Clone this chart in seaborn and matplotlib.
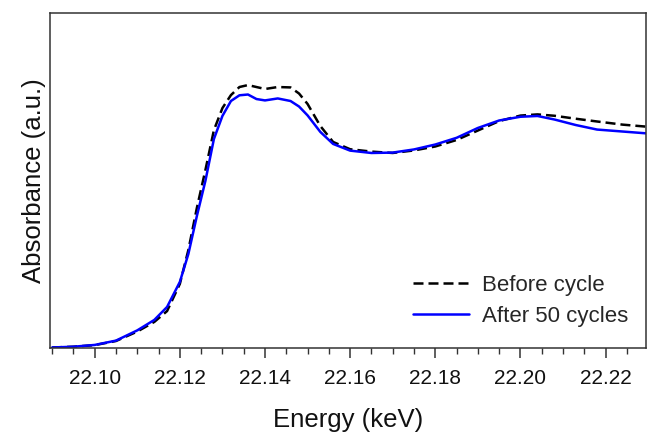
import numpy as np
import pandas as pd
import matplotlib
matplotlib.use("Agg")
import matplotlib.pyplot as plt
import seaborn as sns
from matplotlib.ticker import MultipleLocator
from matplotlib.lines import Line2D

# ---- data ----
energy = [22.090, 22.095, 22.100, 22.105, 22.110, 22.114, 22.117, 22.120, 22.122,
          22.124, 22.126, 22.128, 22.130, 22.132, 22.134, 22.136, 22.138, 22.140,
          22.143, 22.146, 22.148, 22.150, 22.153, 22.156, 22.160, 22.165, 22.170,
          22.175, 22.180, 22.185, 22.190, 22.195, 22.200, 22.204, 22.208, 22.213,
          22.218, 22.224, 22.230]

before_cycle = [0.001, 0.005, 0.013, 0.034, 0.082, 0.131, 0.186, 0.324, 0.496,
                0.710, 0.902, 1.105, 1.217, 1.283, 1.324, 1.334, 1.324, 1.314,
                1.324, 1.322, 1.291, 1.238, 1.126, 1.045, 1.008, 0.996, 0.989,
                1.002, 1.022, 1.055, 1.103, 1.151, 1.179, 1.185, 1.178, 1.163,
                1.149, 1.133, 1.122]

after_50_cycles = [0.001, 0.005, 0.014, 0.036, 0.088, 0.141, 0.207, 0.334, 0.476,
                   0.669, 0.847, 1.060, 1.177, 1.253, 1.282, 1.286, 1.263, 1.256,
                   1.266, 1.253, 1.225, 1.180, 1.096, 1.035, 1.001, 0.989, 0.991,
                   1.007, 1.032, 1.066, 1.116, 1.154, 1.173, 1.177, 1.159, 1.131,
                   1.108, 1.098, 1.088]

series_names = ["Before cycle", "After 50 cycles"]
x_ticks = [22.10, 22.12, 22.14, 22.16, 22.18, 22.20, 22.22]
x_tick_labels = ["22.10", "22.12", "22.14", "22.16", "22.18", "22.20", "22.22"]

df = pd.DataFrame({
    "Energy": energy * 2,
    "Absorbance": before_cycle + after_50_cycles,
    "Sample": [series_names[0]] * len(energy) + [series_names[1]] * len(energy),
})

# ---- style ----
sns.set_theme(style="ticks")
plt.rcParams["font.family"] = ["Liberation Sans", "DejaVu Sans"]

fig = plt.figure(figsize=(6.48, 4.33), dpi=100)
ax = fig.add_axes([50 / 648, 1 - 347.7 / 433, 596 / 648, 334.7 / 433])

LW = 1.8
DASH = (4, 2)
palette = {series_names[0]: "black", series_names[1]: "#0000ff"}
sns.lineplot(data=df, x="Energy", y="Absorbance", hue="Sample", style="Sample",
             palette=palette, dashes={series_names[0]: DASH, series_names[1]: ""},
             linewidth=LW, ax=ax, legend=False, sort=False)

ax.set_xlim(22.0895, 22.2295)
ax.set_ylim(0, 1.7)
ax.set_xticks(x_ticks)
ax.set_xticklabels(x_tick_labels)
ax.xaxis.set_minor_locator(MultipleLocator(0.005))
ax.set_yticks([])

for s in ax.spines.values():
    s.set_color("#333333")
    s.set_linewidth(1.1)

ax.tick_params(axis="x", which="major", direction="out", length=7.5, width=1.1,
               color="#333333", labelsize=15, pad=8, labelcolor="#111111")
ax.tick_params(axis="x", which="minor", direction="out", length=4, width=1.0,
               color="#333333")

ax.set_xlabel("Energy (keV)", fontsize=18.5, labelpad=14, color="#111111")
ax.set_ylabel("Absorbance (a.u.)", fontsize=18.5, labelpad=3, color="#111111")

handles = [Line2D([], [], color="black", lw=LW, dashes=DASH),
           Line2D([], [], color="#0000ff", lw=LW)]
ax.legend(handles, series_names, loc="upper left",
          bbox_to_anchor=((413 - 50) / 596, (347.7 - 275) / 334.7),
          frameon=False, fontsize=16, handlelength=2.5, handletextpad=0.6,
          labelspacing=0.45, borderpad=0, borderaxespad=0)

fig.savefig("out.png", dpi=100)
